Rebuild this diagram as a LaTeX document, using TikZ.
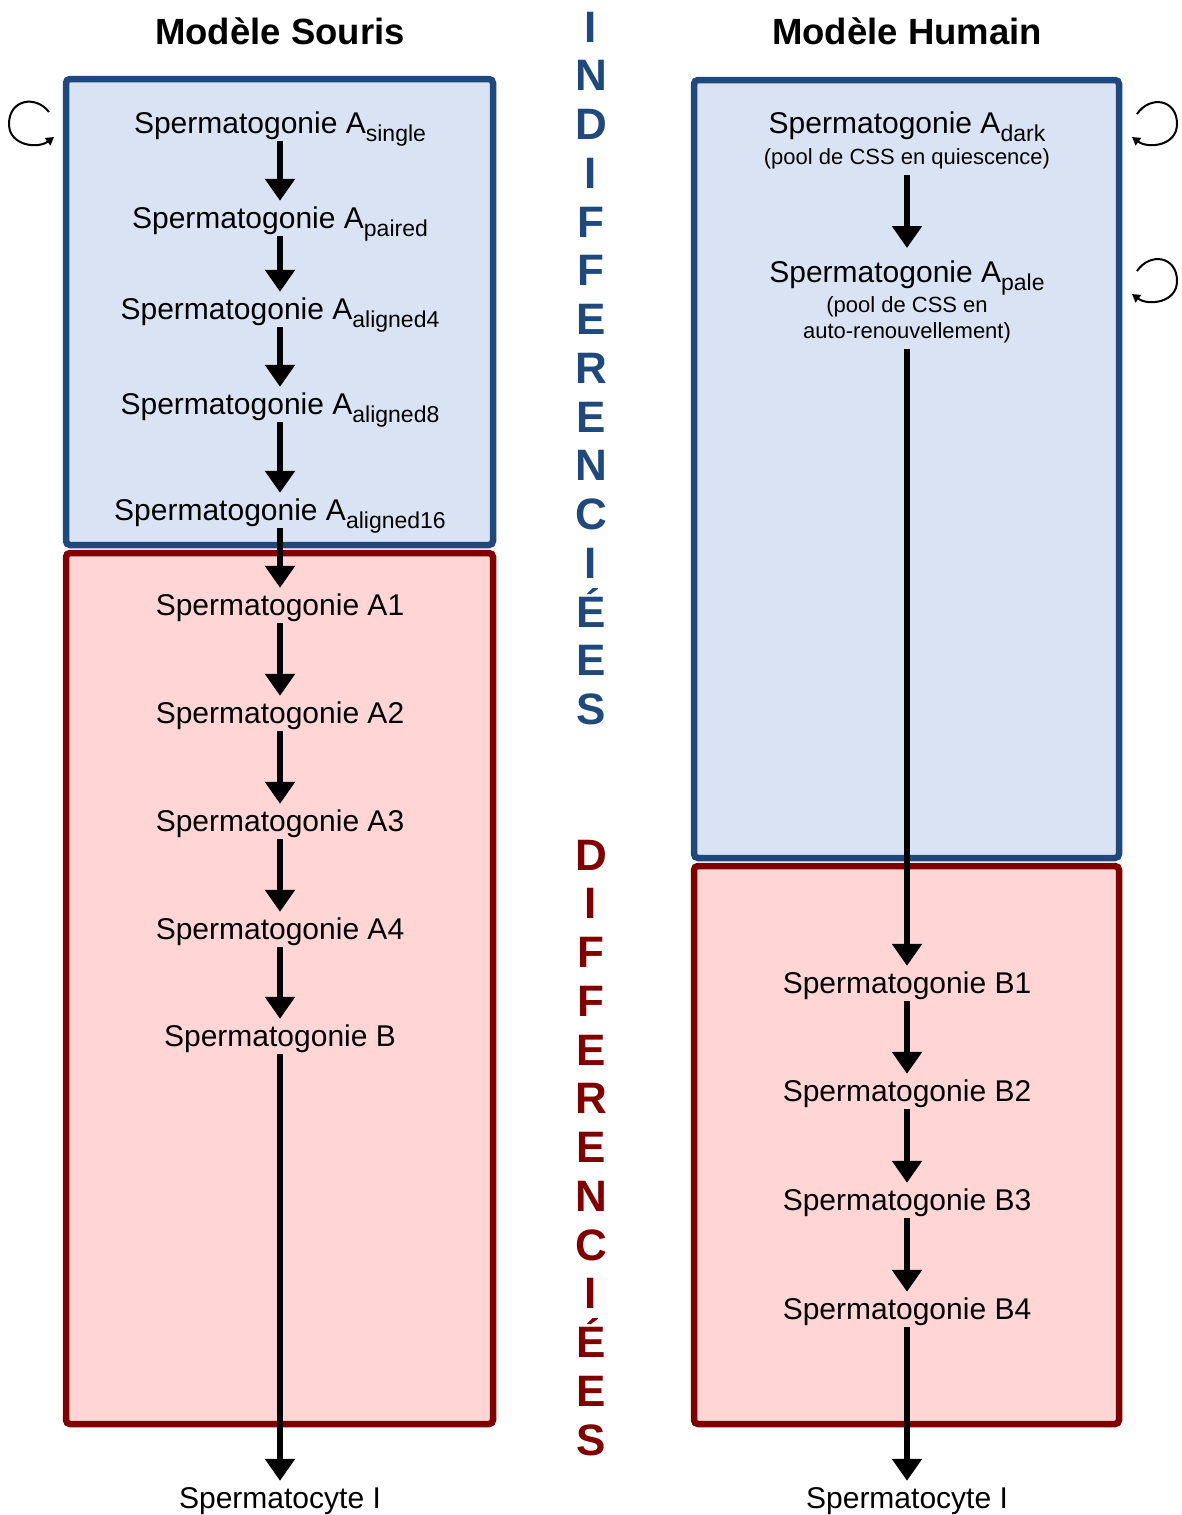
\documentclass[tikz,border=0pt]{standalone}
\usepackage{fontspec}
\setmainfont{Liberation Sans}
\usepackage{xcolor}
\usetikzlibrary{arrows.meta}

\definecolor{undiffblue}{HTML}{1F497D}
\definecolor{undifffill}{HTML}{D9E3F3}
\definecolor{diffred}{HTML}{800000}
\definecolor{difffill}{HTML}{FFD5D5}
\newcommand{\lowidx}[1]{\raisebox{-8pt}{\fontsize{23}{25}\selectfont #1}}

\begin{document}
\begin{tikzpicture}[
      x=1pt, y=1pt,
      cell/.style={
        anchor=base,
        inner sep=0pt,
        text height=27pt,
        text depth=8pt,
        font=\fontsize{30}{36}\selectfont
      },
      note/.style={
        anchor=base,
        inner sep=0pt,
        text height=16pt,
        text depth=11pt,
        font=\fontsize{22}{26}\selectfont
      },
      title/.style={anchor=base, inner sep=0pt, font=\fontsize{36.5}{44}\selectfont\bfseries},
      letter/.style={anchor=base, inner sep=0pt, font=\fontsize{44}{48}\selectfont\bfseries},
      bluezone/.style={draw=undiffblue, fill=undifffill, line width=6.5pt, rounded corners=4pt},
      redzone/.style={draw=diffred, fill=difffill, line width=6.5pt, rounded corners=4pt},
      every edge/.style={draw, line width=5.5pt, -{Triangle[length=22pt,width=29pt]}},
      selfloop/.style={line width=2pt, -{Triangle[length=8pt,width=9pt]}}
    ]
    \useasboundingbox (0,0) rectangle (1182,-1515);

    % zones
    \draw[bluezone] (66,-79) rectangle (493,-545);
    \draw[redzone] (66,-553) rectangle (493,-1424);
    \draw[bluezone] (694,-80) rectangle (1119,-858);
    \draw[redzone] (694,-866) rectangle (1119,-1424);

    % titles
    \node[title] (souris) at (280,-44) {Modèle Souris};
    \node[title] (humain) at (907,-44) {Modèle Humain};

    % mouse
    \node[cell] (single) at (280,-133) {Spermatogonie A\lowidx{single}};
    \node[cell] (paired) at (280,-228) {Spermatogonie A\lowidx{paired}};
    \node[cell] (al4) at (280,-319) {Spermatogonie A\lowidx{aligned4}};
    \node[cell] (al8) at (280,-414) {Spermatogonie A\lowidx{aligned8}};
    \node[cell] (al16) at (280,-520) {Spermatogonie A\lowidx{aligned16}};
    \node[cell] (a1) at (280,-615) {Spermatogonie A1};
    \node[cell] (a2) at (280,-723) {Spermatogonie A2};
    \node[cell] (a3) at (280,-831) {Spermatogonie A3};
    \node[cell] (a4) at (280,-939) {Spermatogonie A4};
    \node[cell] (sgb) at (280,-1046) {Spermatogonie B};
    \node[cell] (cyteL) at (280,-1508) {Spermatocyte I};

    % human
    \node[cell] (dark) at (907,-133) {Spermatogonie A\lowidx{dark}};
    \node[note] (darknote) at (907,-164) {(pool de CSS en quiescence)};
    \node[cell] (pale) at (907,-282) {Spermatogonie A\lowidx{pale}};
    \node[note] (palenoteA) at (907,-312) {(pool de CSS en};
    \node[note] (palenoteB) at (907,-338) {auto-renouvellement)};
    \node[cell] (b1) at (907,-993) {Spermatogonie B1};
    \node[cell] (b2) at (907,-1101) {Spermatogonie B2};
    \node[cell] (b3) at (907,-1210) {Spermatogonie B3};
    \node[cell] (b4) at (907,-1319) {Spermatogonie B4};
    \node[cell] (cyteR) at (907,-1508) {Spermatocyte I};

    \path (single) edge (paired)
          (paired) edge (al4)
          (al4) edge (al8)
          (al8) edge (al16)
          (al16) edge (a1)
          (a1) edge (a2)
          (a2) edge (a3)
          (a3) edge (a4)
          (a4) edge (sgb)
          (sgb) edge (cyteL);

    \path (darknote) edge (pale.north |- 0,-248)
          (palenoteB) edge (b1)
          (b1) edge (b2)
          (b2) edge (b3)
          (b3) edge (b4)
          (b4) edge (cyteR);

    % middle labels
    \foreach \ch [count=\i from 0] in {I,N,D,I,F,F,E,R,E,N,C,I,É,E,S}
      \node[letter, text=undiffblue] (undiff\i) at (591,{-42-48.75*\i}) {\ch};
    \foreach \ch [count=\i from 0] in {D,I,F,F,E,R,E,N,C,I,É,E,S}
      \node[letter, text=diffred] (diff\i) at (591,{-870-48.75*\i}) {\ch};

    % self-renewal loops
    \coordinate (singleIn) at (49,-112);
    \coordinate (singleOut) at (54,-137);
    \draw[selfloop] (singleIn) .. controls (36,-95) and (9,-99) .. (9,-124)
      .. controls (9,-146) and (38,-149) .. (singleOut);
    \coordinate (darkIn) at (1137,-114);
    \coordinate (darkOut) at (1132,-137);
    \draw[selfloop] (darkIn) .. controls (1150,-95) and (1177,-99) .. (1177,-124)
      .. controls (1177,-146) and (1148,-149) .. (darkOut);
    \coordinate (paleIn) at (1137,-271);
    \coordinate (paleOut) at (1132,-294);
    \draw[selfloop] (paleIn) .. controls (1150,-252) and (1177,-256) .. (1177,-281)
      .. controls (1177,-303) and (1148,-306) .. (paleOut);
  \end{tikzpicture}
\end{document}
